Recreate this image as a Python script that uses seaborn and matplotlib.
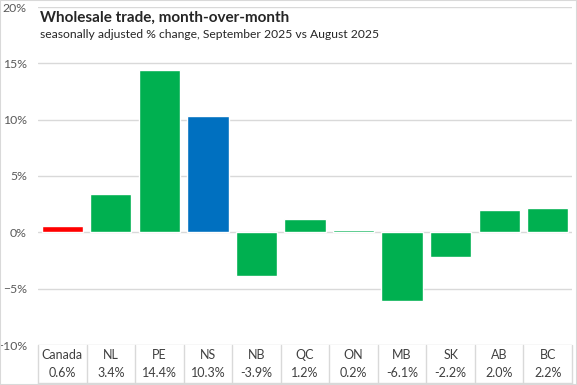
import matplotlib.pyplot as plt
import matplotlib.ticker as mtick
import matplotlib.transforms as mtrans
import seaborn as sns
import pandas as pd

sns.set_theme(style="white")
plt.rcParams['font.family'] = ['Lato', 'DejaVu Sans']

# data
regions = ["Canada", "NL", "PE", "NS", "NB", "QC", "ON", "MB", "SK", "AB", "BC"]
changes = [0.6, 3.4, 14.4, 10.3, -3.9, 1.2, 0.2, -6.1, -2.2, 2.0, 2.2]
colors = ["#FF0000", "#00B050", "#00B050", "#0070C0", "#00B050", "#00B050",
          "#00B050", "#00B050", "#00B050", "#00B050", "#00B050"]

df = pd.DataFrame({"region": regions, "change": changes})

fig = plt.figure(figsize=(5.77, 3.85), dpi=100)
ax = fig.add_axes([38 / 577, 1 - 345 / 385, (572 - 38) / 577, (345 - 7) / 385])

sns.barplot(data=df, x="region", y="change", hue="region", palette=colors,
            width=0.85, legend=False, saturation=1, ax=ax, zorder=3)

ax.set_ylim(-10, 20)
ax.set_xlim(-0.5, len(regions) - 0.5)
ax.yaxis.set_major_locator(mtick.MultipleLocator(5))
ax.yaxis.set_major_formatter(mtick.PercentFormatter(decimals=0))
ax.grid(axis="y", color="#D9D9D9", linewidth=1, zorder=0)
for s in ax.spines.values():
    s.set_visible(False)
ax.set_xticks([])
ax.set_xlabel("")
ax.set_ylabel("")
ax.tick_params(axis="y", length=0, pad=8, labelsize=8.8, labelcolor="#595959")

# data table under the plot
trans = mtrans.blended_transform_factory(ax.transData, ax.transAxes)
name_y = -(355 - 345) / 338
val_y = -(373 - 345) / 338
bottom_y = -(383 - 345) / 338
for i, (r, v) in enumerate(zip(regions, changes)):
    ax.text(i, name_y, r, transform=trans, ha="center", va="center",
            fontsize=9, color="#404040")
    ax.text(i, val_y, f"{v:.1f}%", transform=trans, ha="center", va="center",
            fontsize=9, color="#404040")
for i in range(len(regions) + 1):
    ax.plot([i - 0.5, i - 0.5], [0, bottom_y], transform=trans, color="#D9D9D9",
            linewidth=1, clip_on=False)
ax.plot([-0.5, len(regions) - 0.5], [bottom_y, bottom_y], transform=trans,
        color="#D9D9D9", linewidth=1, clip_on=False)

fig.text(40 / 577, 1 - 18 / 385, "Wholesale trade, month-over-month",
         fontsize=11, fontweight="bold", color="#262626", va="center")
fig.text(40 / 577, 1 - 34 / 385,
         "seasonally adjusted % change, September 2025 vs August 2025",
         fontsize=8.7, color="#262626", va="center")

fig.patches.append(plt.Rectangle((0, 0), 1, 1, transform=fig.transFigure,
                                 fill=False, edgecolor="#D9D9D9", linewidth=1.5))

fig.savefig("out.png", dpi=100)
